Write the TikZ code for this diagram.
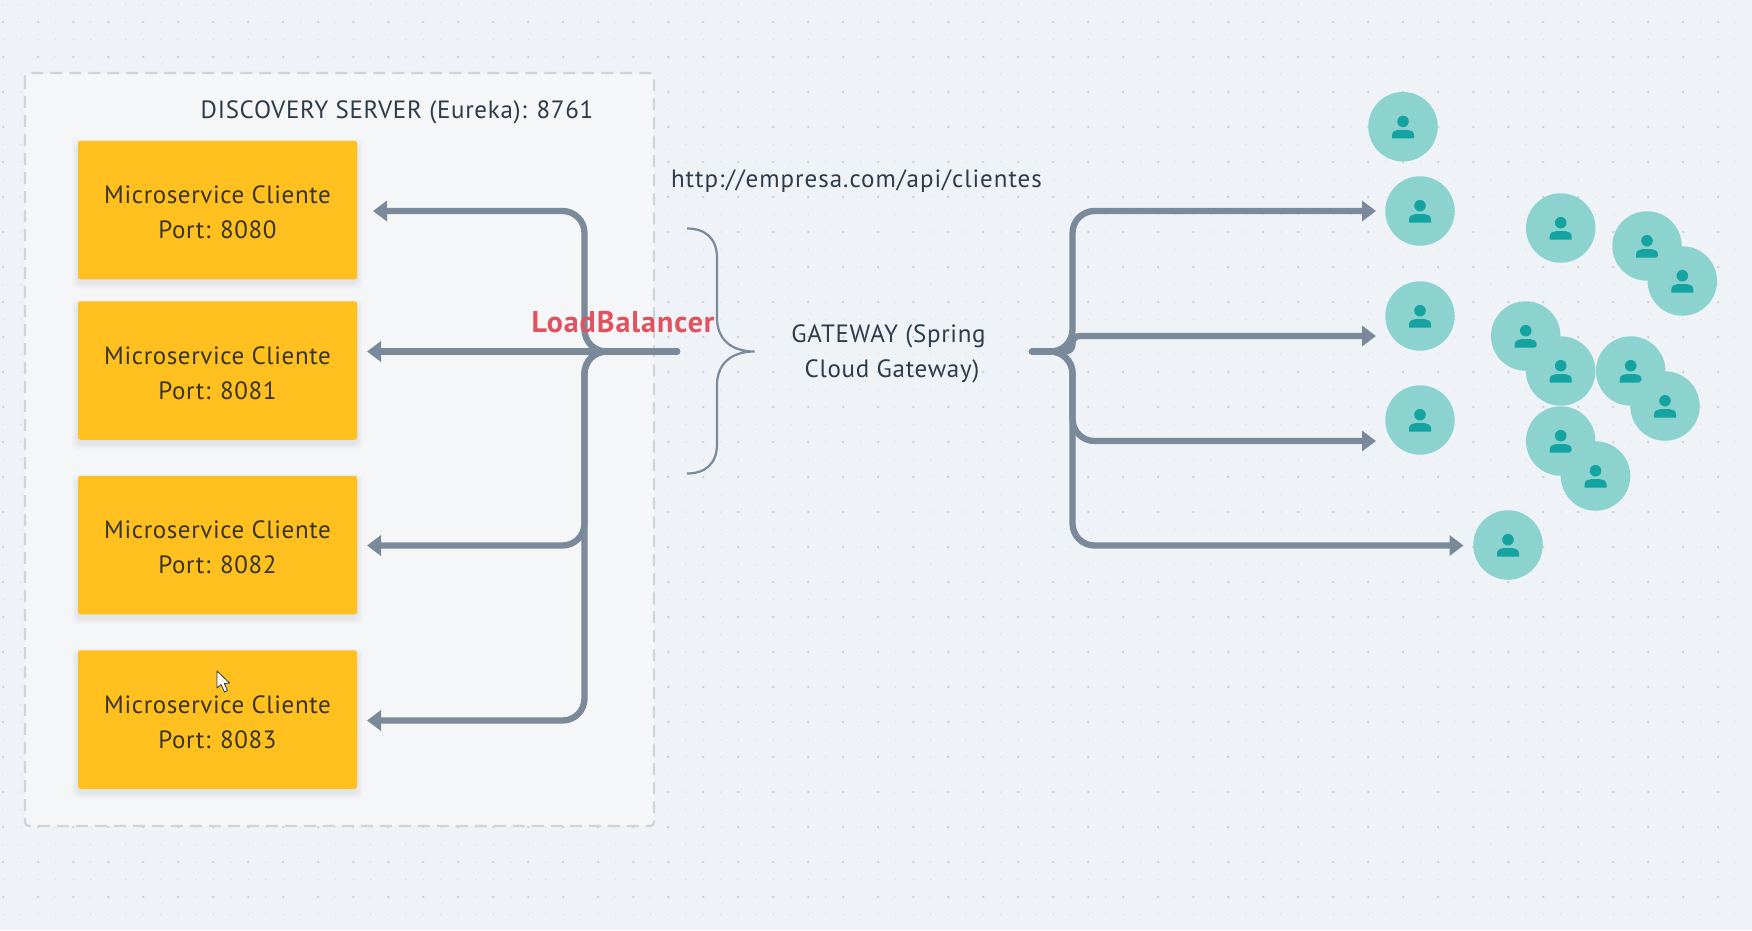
\documentclass[tikz,border=0pt]{standalone}
\usepackage{fontspec}
\setmainfont{PT Sans}
\usetikzlibrary{arrows.meta}
\definecolor{bgc}{HTML}{EFF3F8}
\definecolor{panel}{HTML}{F4F6F8}
\definecolor{dashc}{HTML}{CDD5D8}
\definecolor{dotc}{HTML}{C6CBD0}
\definecolor{wire}{HTML}{7A8A9A}
\definecolor{amber}{HTML}{FFC020}
\definecolor{ink}{HTML}{2E3B49}
\definecolor{inkb}{HTML}{3A3522}
\definecolor{lbred}{HTML}{E0525F}
\definecolor{tealL}{HTML}{8CD3D0}
\definecolor{tealD}{HTML}{14A3A0}
\tikzset{
  conn/.style={draw=wire,line width=6.3pt,rounded corners=22pt,line cap=round,line join=round},
  arrowed/.style={conn,-{Triangle[length=14pt,width=20pt]}},
  svc/.style={fill=amber,rounded corners=2.5pt,minimum width=279pt,minimum height=138.5pt,inner sep=0pt},
  svctext/.style={text=inkb,align=center,inner sep=0pt,font=\fontsize{25}{35}\selectfont\addfontfeature{LetterSpace=2.4}},
  lbl/.style={text=ink,align=center,inner sep=0pt,font=\fontsize{25}{35}\selectfont\addfontfeature{LetterSpace=2.8}},
  usr/.style={circle,fill=tealL,minimum size=69.5pt,inner sep=0pt},
}
\begin{document}
\begin{tikzpicture}[x=1pt,y=-1pt]
\useasboundingbox (0,0) rectangle (1752,930);
\fill[bgc] (0,0) rectangle (1752,930);
% dotted canvas
\foreach \x in {3.3,20.8,...,1752}
  \foreach \y in {4.5,22,...,930}
    \fill[dotc!50!bgc] (\x,\y) circle (0.8pt);
\foreach \x in {3.3,38.3,...,1752}
  \foreach \y in {22,57,...,930}
    \fill[dotc!85!bgc] (\x,\y) circle (1.4pt);
% panel
\draw[fill=panel,draw=dashc,line width=2.2pt,dash pattern=on 12pt off 7pt,rounded corners=4pt]
  (25,73) rectangle (654,826);
\node[lbl] (disc) at (397,112.5) {DISCOVERY SERVER (Eureka): 8761};
% services
\foreach \n/\yc/\p in {1/210/8080,2/370.5/8081,3/545/8082,4/719.5/8083}{
  \foreach \k in {1,...,6}
    \fill[black,opacity=.012,rounded corners=5pt]
      (78-\k,\yc-69+4-\k) rectangle (357+\k,\yc+69+4+\k);
  \node[svc] (m\n) at (217.5,\yc) {};
  \node[svctext] (t\n) at ([yshift=-2.3pt]m\n.center) {Microservice Cliente\\Port: \p};
}
% load balancer wiring
\coordinate (hub) at (677,351.5);
\coordinate (tt) at (584.5,211);
\coordinate (tm) at (584.5,545.5);
\coordinate (tb) at (584.5,720.5);
\coordinate (a1) at (373,211);
\coordinate (a2) at (367,351.5);
\coordinate (a3) at (367,545.5);
\coordinate (a4) at (367,720.5);
\draw[arrowed] (hub) -- (a2);
\draw[arrowed] (hub) -| (tt) -- (a1);
\draw[arrowed] (hub) -| (tm) -- (a3);
\draw[arrowed] (hub) -| (tb) -- (a4);
\node[lbl,text=lbred,font=\fontsize{30}{35}\selectfont\bfseries\addfontfeature{LetterSpace=3.2}] (lb) at (623,322) {LoadBalancer};
% brace
\coordinate (bt) at (687,228.5);
\coordinate (bm) at (754.5,351.5);
\coordinate (bb) at (687,473.5);
\draw[wire,line width=2.2pt]
  (bt) .. controls (705,228.5) and (717,238) .. (717,258) -- (717,318)
  .. controls (717,338) and (730,351.5) .. (bm)
  .. controls (730,351.5) and (717,365) .. (717,385) -- (717,444)
  .. controls (717,464) and (705,473.5) .. (bb);
\node[lbl,font=\fontsize{25}{35}\selectfont\addfontfeature{LetterSpace=3.9}] (url) at (856.5,181.5) {http://empresa.com/api/clientes};
\node[lbl] (gw) at (888.5,354) {GATEWAY (Spring\\\hspace*{7pt}Cloud Gateway)};
% gateway wiring
\coordinate (gs) at (1032,351.5);
\coordinate (rt) at (1072.5,211);
\coordinate (r2) at (1072.5,336);
\coordinate (r3) at (1072.5,441);
\coordinate (r4) at (1072.5,545.5);
\coordinate (d1) at (1376,211);
\coordinate (d2) at (1376,336);
\coordinate (d3) at (1376,441);
\coordinate (d4) at (1463.5,545.5);
\draw[arrowed] (gs) -| (rt) -- (d1);
\draw[arrowed,rounded corners=7pt] (gs) -| (r2) -- (d2);
\draw[arrowed] (gs) -| (r3) -- (d3);
\draw[arrowed] (gs) -| (r4) -- (d4);
% users
\foreach \n/\x/\y in {1/1403/126.7,2/1420/211,3/1420/316,4/1420/420,5/1508/545,
  6/1560.7/228,7/1647/246,8/1682.3/281,9/1525.7/336,10/1560.7/371,11/1630.7/371,
  12/1665/406,13/1560.7/441,14/1595.5/476}{
  \node[usr] (u\n) at (\x,\y) {};
  \fill[tealD] (\x,\y-5.3) circle (5.8pt);
  \fill[tealD] (\x-11,\y+11.7) -- (\x-11,\y+8.5) .. controls (\x-11,\y+5) and (\x-8,\y+3.2) .. (\x-5,\y+3.2)
     -- (\x+5,\y+3.2) .. controls (\x+8,\y+3.2) and (\x+11,\y+5) .. (\x+11,\y+8.5) -- (\x+11,\y+11.7) -- cycle;
}
% pointer
\draw[fill=white,draw=black!80,line width=0.8pt,line join=round]
  (217,671) -- (217,688) -- (221,684.5) -- (224.5,692) -- (227.5,690.5) -- (224.3,683.5) -- (229.5,683) -- cycle;
\end{tikzpicture}
\end{document}
